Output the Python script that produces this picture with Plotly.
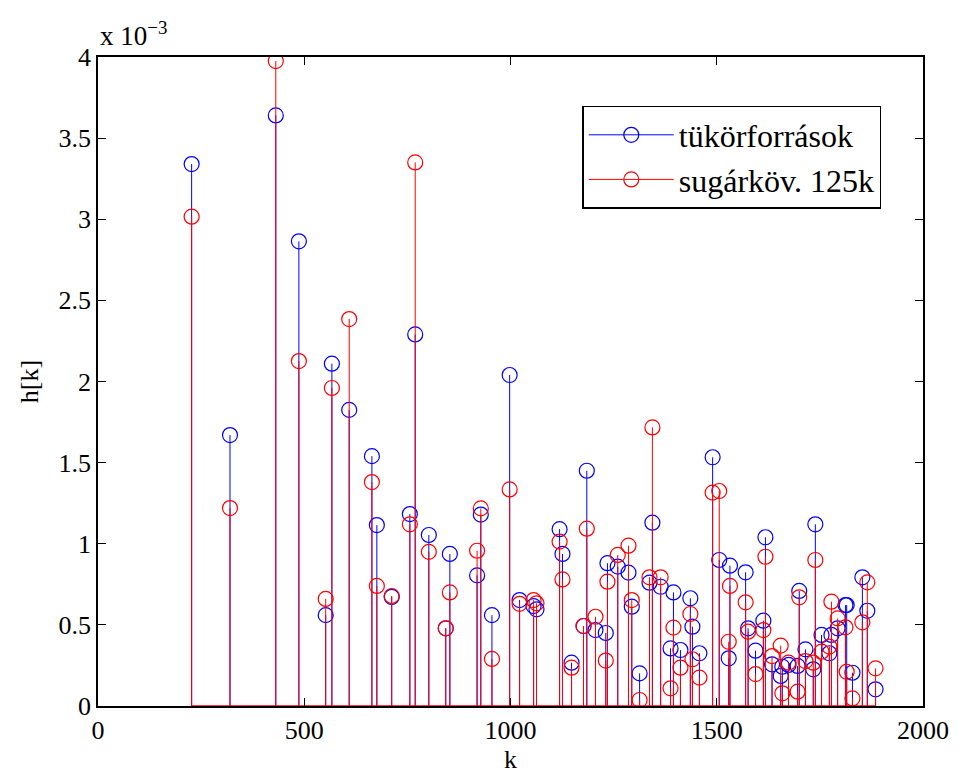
import plotly.graph_objects as go

k = [227, 320, 431, 487, 552, 567, 609, 664, 676, 712, 756, 769, 802, 843, 853,
     919, 928, 955, 998, 1022, 1056, 1063, 1119, 1126, 1148, 1177, 1185, 1206,
     1231, 1235, 1260, 1286, 1294, 1313, 1337, 1344, 1364, 1388, 1395, 1412,
     1436, 1441, 1458, 1490, 1506, 1529, 1532, 1570, 1576, 1594, 1613, 1618,
     1634, 1655, 1659, 1674, 1696, 1700, 1715, 1734, 1739, 1754, 1773, 1778,
     1793, 1812, 1815, 1829, 1853, 1865, 1885]

tukor = [3.34, 1.67, 3.64, 2.864, 0.56, 2.11, 1.825, 1.54, 1.115, 0.672, 1.183,
         2.29, 1.054, 0.479, 0.937, 0.805, 1.18, 0.56, 2.04, 0.653, 0.616, 0.596,
         1.09, 0.937, 0.267, 0.493, 1.45, 0.468, 0.45, 0.88, 0.859, 0.822, 0.612,
         0.201, 0.76, 1.13, 0.735, 0.355, 0.70, 0.345, 0.664, 0.489, 0.325,
         1.533, 0.90, 0.294, 0.865, 0.824, 0.479, 0.341, 0.526, 1.04, 0.257,
         0.185, 0.242, 0.253, 0.247, 0.709, 0.349, 0.226, 1.12, 0.438, 0.325,
         0.438, 0.479, 0.622, 0.622, 0.205, 0.793, 0.587, 0.103]

sugar = [3.016, 1.22, 3.975, 2.126, 0.66, 1.96, 2.385, 1.38, 0.74, 0.678, 1.12,
         3.35, 0.95, 0.479, 0.70, 0.957, 1.218, 0.29, 1.335, 0.63, 0.653, 0.633,
         1.013, 0.78, 0.236, 0.493, 1.093, 0.55, 0.28, 0.766, 0.931, 0.988, 0.653,
         0.037, 0.793, 1.717, 0.793, 0.109, 0.483, 0.236, 0.567, 0.288, 0.175,
         1.315, 1.325, 0.396, 0.74, 0.639, 0.458, 0.197, 0.468, 0.92, 0.308,
         0.372, 0.078, 0.267, 0.088, 0.67, 0.277, 0.267, 0.90, 0.335, 0.366,
         0.643, 0.54, 0.485, 0.211, 0.047, 0.516, 0.762, 0.232]

scale = 1e-3
xticks = [0, 500, 1000, 1500, 2000]
yticks = [0, 0.5, 1, 1.5, 2, 2.5, 3, 3.5, 4]
yticklabels = ["0", "0.5", "1", "1.5", "2", "2.5", "3", "3.5", "4"]
names = ["tükörforrások", "sugárköv. 125k"]
colors = ["#0000ff", "#ff0000"]
FONT = "Liberation Serif"


def stem_xy(xs, vs):
    sx, sy = [], []
    for x, v in zip(xs, vs):
        sx += [x, x, None]
        sy += [0, v * scale, None]
    return sx, sy


fig = go.Figure()
for vals, col, name in zip([tukor, sugar], colors, names):
    sx, sy = stem_xy(k, vals)
    fig.add_trace(go.Scatter(x=sx, y=sy, mode="lines", line=dict(color=col, width=1),
                             showlegend=False, hoverinfo="skip"))
    fig.add_trace(go.Scatter(x=k, y=[v * scale for v in vals], mode="markers",
                             marker=dict(symbol="circle-open", size=15, color=col,
                                         line=dict(width=1.2, color=col)),
                             showlegend=False))
    fig.add_trace(go.Scatter(x=[None], y=[None], mode="lines+markers", name=name,
                             line=dict(color=col, width=1),
                             marker=dict(symbol="circle-open", size=15, color=col,
                                         line=dict(width=1.2, color=col))))

# baseline
fig.add_trace(go.Scatter(x=[min(k), max(k)], y=[0, 0], mode="lines",
                         line=dict(color=colors[1], width=1.5), showlegend=False,
                         hoverinfo="skip"))

axis_common = dict(showline=True, linecolor="black", linewidth=1.5, mirror="ticks",
                   ticks="inside", ticklen=8, tickcolor="black", showgrid=False,
                   zeroline=False, tickfont=dict(family=FONT, size=26, color="black"))

fig.update_layout(
    width=958, height=774,
    margin=dict(l=90, r=43, t=49, b=76),
    paper_bgcolor="white", plot_bgcolor="white",
    font=dict(family=FONT, size=26, color="black"),
    xaxis=dict(range=[0, 2000], tickvals=xticks, **axis_common,
               title=dict(text="k", font=dict(family=FONT, size=26), standoff=0)),
    yaxis=dict(range=[0, 4e-3], tickvals=[t * scale for t in yticks],
               ticktext=yticklabels, **axis_common,
               title=dict(text="h[k]", font=dict(family=FONT, size=26), standoff=12)),
    legend=dict(x=0.587, y=0.9245, xanchor="left", yanchor="top",
                bordercolor="black", borderwidth=1.5, bgcolor="white",
                font=dict(family=FONT, size=32, color="black"),
                tracegroupgap=0, itemwidth=85),
    annotations=[dict(text="x 10<sup>−3</sup>", xref="paper", yref="paper",
                      x=0, y=1.0, xanchor="left", yanchor="bottom", yshift=4,
                      showarrow=False, font=dict(family=FONT, size=27, color="black"))],
)

fig.write_html("out.html")
